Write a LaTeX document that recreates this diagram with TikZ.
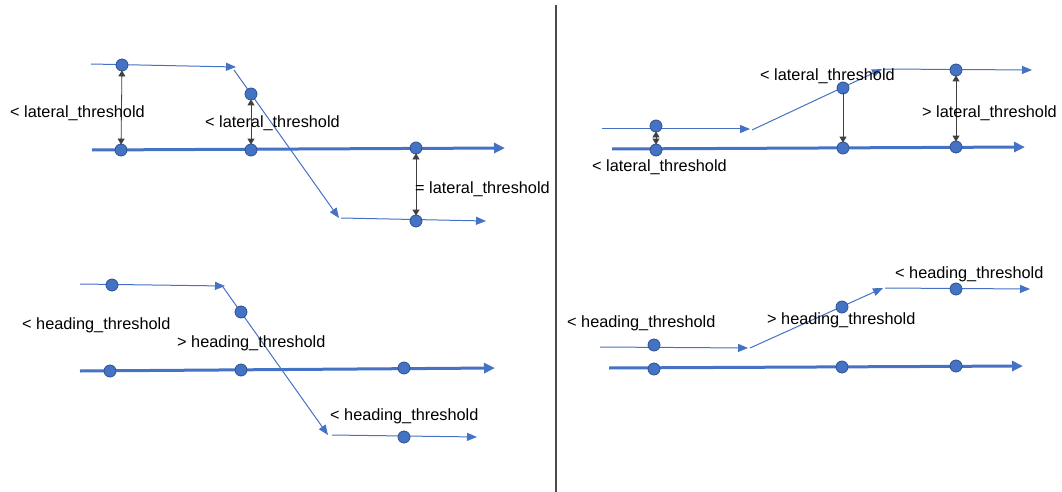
\documentclass[tikz,border=0pt]{standalone}
\usepackage{fontspec}
\setmainfont{Liberation Sans}
\usetikzlibrary{arrows.meta}
\definecolor{obl}{HTML}{4472C4}
\definecolor{odk}{HTML}{2F528F}
\tikzset{
  thickln/.style={draw=obl, line width=3pt, -{Triangle[length=11pt,width=10pt]}},
  thinln/.style={draw=obl, line width=1pt, -{Triangle[length=10pt,width=8pt]}},
  dot/.style={circle, fill=obl, draw=odk, line width=0.8pt, minimum size=12pt, inner sep=0pt},
  meas/.style={draw=black!75, line width=0.8pt, shorten <=-1pt, shorten >=-1pt},
  mtip/.style={-{Triangle[length=6pt,width=7pt]}},
  mboth/.style={{Triangle[length=6pt,width=7pt]}-{Triangle[length=6pt,width=7pt]}},
  lbl/.style={anchor=west, inner sep=0pt, font=\fontsize{16.3}{19}\selectfont},
  divider/.style={draw=black!70, line width=1.5pt}
}
\begin{document}
\begin{tikzpicture}[x=1pt,y=-1pt]
\useasboundingbox (0,0) rectangle (1062,492);
% divider
\coordinate (dv0) at (556,5);
\coordinate (dv1) at (556,492);
\draw[divider] (dv0) -- (dv1);

% ===== top-left =====
\coordinate (tl0) at (92,150); \coordinate (tl1) at (505,148);
\coordinate (tu0) at (91,64); \coordinate (tu1) at (236,67);
\coordinate (td0) at (234,70); \coordinate (td1) at (339,218);
\coordinate (tw0) at (341,218); \coordinate (tw1) at (486,221);
\draw[thickln] (tl0) -- (tl1);
\draw[thinln] (tu0) -- (tu1);
\draw[thinln] (td0) -- (td1);
\draw[thinln] (tw0) -- (tw1);
\node[dot] (A1) at (121,150) {};
\node[dot] (A2) at (251,150) {};
\node[dot] (A3) at (416,148) {};
\node[dot] (U1) at (122,65) {};
\node[dot] (D1) at (251,94) {};
\node[dot] (L1) at (416,221) {};
\draw[meas,mboth] (U1) -- (A1);
\draw[meas,mboth] (D1) -- (A2);
\draw[meas,mboth] (A3) -- (L1);
\node[lbl] (la1) at (10,113) {< lateral\_threshold};
\node[lbl] (la2) at (205,123) {< lateral\_threshold};
\node[lbl] (la3) at (415,189) {= lateral\_threshold};

% ===== top-right =====
\coordinate (rl0) at (612,149); \coordinate (rl1) at (1025,147);
\coordinate (ru0) at (602,129); \coordinate (ru1) at (750,129);
\coordinate (rd0) at (752,130); \coordinate (rd1) at (882,69);
\coordinate (rw0) at (884,69); \coordinate (rw1) at (1032,70);
\draw[thickln] (rl0) -- (rl1);
\draw[thinln] (ru0) -- (ru1);
\draw[thinln] (rd0) -- (rd1);
\draw[thinln] (rw0) -- (rw1);
\node[dot] (B1) at (656,150) {};
\node[dot] (B2) at (843,148) {};
\node[dot] (B3) at (956,147) {};
\node[dot] (V1) at (656,126) {};
\node[dot] (E1) at (843,88) {};
\node[dot] (W1) at (956,70) {};
\draw[meas,mboth] (V1) -- (B1);
\draw[meas,mtip] (E1) -- (B2);
\draw[meas,mboth] (W1) -- (B3);
\node[lbl] (lb1) at (760,76) {< lateral\_threshold};
\node[lbl] (lb2) at (922,113) {> lateral\_threshold};
\node[lbl] (lb3) at (592,167) {< lateral\_threshold};

% ===== bottom-left =====
\coordinate (bl0) at (80,371); \coordinate (bl1) at (495,368);
\coordinate (bu0) at (80,284); \coordinate (bu1) at (225,286);
\coordinate (bd0) at (223,287); \coordinate (bd1) at (328,435);
\coordinate (bw0) at (332,435); \coordinate (bw1) at (477,437);
\draw[thickln] (bl0) -- (bl1);
\draw[thinln] (bu0) -- (bu1);
\draw[thinln] (bd0) -- (bd1);
\draw[thinln] (bw0) -- (bw1);
\node[dot] (C1) at (110,371) {};
\node[dot] (C2) at (241,370) {};
\node[dot] (C3) at (404,368) {};
\node[dot] (X1) at (112,285) {};
\node[dot] (F1) at (241,312) {};
\node[dot] (Y1) at (404,437) {};
\node[lbl] (lc1) at (22,325) {< heading\_threshold};
\node[lbl] (lc2) at (177,343) {> heading\_threshold};
\node[lbl] (lc3) at (330,416) {< heading\_threshold};

% ===== bottom-right =====
\coordinate (gl0) at (609,368); \coordinate (gl1) at (1023,366);
\coordinate (gu0) at (600,347); \coordinate (gu1) at (748,348);
\coordinate (gd0) at (750,348); \coordinate (gd1) at (883,288);
\coordinate (gw0) at (885,288); \coordinate (gw1) at (1030,289);
\draw[thickln] (gl0) -- (gl1);
\draw[thinln] (gu0) -- (gu1);
\draw[thinln] (gd0) -- (gd1);
\draw[thinln] (gw0) -- (gw1);
\node[dot] (G1) at (654,369) {};
\node[dot] (G2) at (842,367) {};
\node[dot] (G3) at (956,366) {};
\node[dot] (Z1) at (654,345) {};
\node[dot] (H1) at (842,307) {};
\node[dot] (Q1) at (956,289) {};
\node[lbl] (ld1) at (567,323) {< heading\_threshold};
\node[lbl] (ld2) at (767,320) {> heading\_threshold};
\node[lbl] (ld3) at (895,274) {< heading\_threshold};
\end{tikzpicture}
\end{document}
